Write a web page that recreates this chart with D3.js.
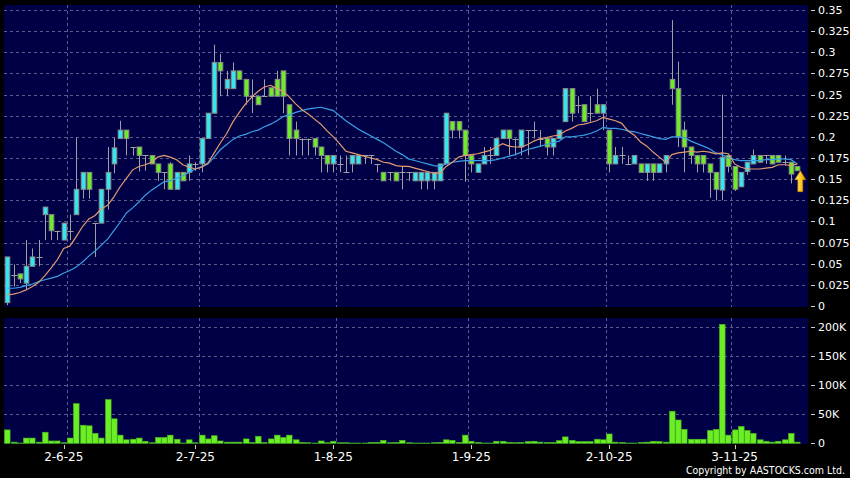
<!DOCTYPE html>
<html>
<head>
<meta charset="utf-8">
<script src="https://cdn.jsdelivr.net/npm/d3@7"></script>
<style>
    html, body { margin: 0; padding: 0; background: #000; }
    svg { display: block; }
    text { font-family: "DejaVu Sans", sans-serif; fill: #fff; }
    text.copy { font-family: "DejaVu Sans Condensed", "DejaVu Sans", sans-serif; font-stretch: condensed; }
</style>
</head>
<body>
<svg id="chart" width="850" height="478"></svg>
<script>
// Daily candles, oldest first
const opens = [
    0.004, 0.037, 0.038, 0.027, 0.047, 0.058, 0.108, 0.108, 0.089, 0.078,
    0.089, 0.108, 0.138, 0.158, 0.098, 0.098, 0.138, 0.168, 0.198, 0.208,
    0.188, 0.188, 0.178, 0.178, 0.168, 0.158, 0.168, 0.138, 0.158, 0.158,
    0.168, 0.168, 0.198, 0.228, 0.288, 0.257, 0.257, 0.278, 0.268, 0.248,
    0.248, 0.248, 0.258, 0.268, 0.278, 0.238, 0.208, 0.198, 0.198, 0.198,
    0.188, 0.178, 0.168, 0.168, 0.158, 0.168, 0.168, 0.178, 0.178, 0.168,
    0.158, 0.158, 0.158, 0.158, 0.158, 0.148, 0.148, 0.148, 0.148, 0.148,
    0.168, 0.218, 0.218, 0.208, 0.178, 0.158, 0.168, 0.178, 0.178, 0.198,
    0.208, 0.198, 0.188, 0.208, 0.208, 0.198, 0.198, 0.188, 0.198, 0.218,
    0.257, 0.238, 0.238, 0.228, 0.238, 0.228, 0.208, 0.168, 0.178, 0.168,
    0.168, 0.168, 0.158, 0.168, 0.158, 0.168, 0.268, 0.257, 0.208, 0.188,
    0.178, 0.178, 0.168, 0.158, 0.137, 0.178, 0.165, 0.141, 0.159, 0.168,
    0.178, 0.178, 0.178, 0.178, 0.170, 0.170, 0.165
];
const highs = [
    0.058, 0.049, 0.038, 0.078, 0.068, 0.078, 0.117, 0.108, 0.089, 0.098,
    0.108, 0.199, 0.158, 0.158, 0.098, 0.138, 0.188, 0.199, 0.219, 0.208,
    0.188, 0.188, 0.178, 0.178, 0.168, 0.158, 0.170, 0.158, 0.158, 0.178,
    0.170, 0.198, 0.228, 0.309, 0.298, 0.278, 0.288, 0.278, 0.268, 0.268,
    0.248, 0.268, 0.258, 0.278, 0.278, 0.238, 0.218, 0.198, 0.198, 0.198,
    0.188, 0.178, 0.178, 0.178, 0.178, 0.178, 0.178, 0.178, 0.178, 0.168,
    0.158, 0.158, 0.158, 0.165, 0.158, 0.158, 0.158, 0.158, 0.158, 0.168,
    0.228, 0.218, 0.218, 0.208, 0.178, 0.168, 0.188, 0.188, 0.198, 0.208,
    0.208, 0.198, 0.208, 0.208, 0.218, 0.208, 0.198, 0.198, 0.208, 0.257,
    0.257, 0.248, 0.238, 0.248, 0.257, 0.238, 0.208, 0.188, 0.188, 0.178,
    0.178, 0.168, 0.168, 0.168, 0.168, 0.178, 0.338, 0.289, 0.218, 0.188,
    0.178, 0.178, 0.168, 0.158, 0.250, 0.178, 0.165, 0.158, 0.170, 0.185,
    0.178, 0.178, 0.178, 0.178, 0.178, 0.170, 0.165
];
const lows = [
    0.001, 0.023, 0.027, 0.020, 0.047, 0.047, 0.078, 0.078, 0.078, 0.078,
    0.078, 0.108, 0.127, 0.127, 0.058, 0.098, 0.114, 0.157, 0.198, 0.178,
    0.178, 0.159, 0.160, 0.168, 0.148, 0.138, 0.138, 0.138, 0.148, 0.148,
    0.160, 0.158, 0.198, 0.228, 0.248, 0.248, 0.257, 0.268, 0.238, 0.228,
    0.238, 0.248, 0.248, 0.248, 0.228, 0.178, 0.178, 0.178, 0.178, 0.178,
    0.158, 0.158, 0.158, 0.158, 0.158, 0.158, 0.168, 0.168, 0.168, 0.158,
    0.148, 0.148, 0.148, 0.138, 0.148, 0.148, 0.138, 0.138, 0.138, 0.148,
    0.168, 0.198, 0.198, 0.147, 0.158, 0.158, 0.168, 0.168, 0.178, 0.198,
    0.178, 0.178, 0.178, 0.178, 0.198, 0.188, 0.178, 0.178, 0.198, 0.218,
    0.218, 0.228, 0.218, 0.218, 0.228, 0.208, 0.158, 0.168, 0.168, 0.168,
    0.168, 0.158, 0.148, 0.148, 0.158, 0.158, 0.238, 0.188, 0.158, 0.168,
    0.158, 0.158, 0.128, 0.125, 0.125, 0.158, 0.136, 0.141, 0.155, 0.168,
    0.170, 0.168, 0.168, 0.170, 0.166, 0.145, 0.160
];
const closes = [
    0.058, 0.037, 0.032, 0.047, 0.058, 0.058, 0.117, 0.089, 0.089, 0.098,
    0.089, 0.138, 0.158, 0.138, 0.098, 0.138, 0.158, 0.187, 0.208, 0.198,
    0.188, 0.178, 0.178, 0.168, 0.158, 0.158, 0.138, 0.158, 0.148, 0.168,
    0.168, 0.198, 0.228, 0.288, 0.278, 0.268, 0.278, 0.268, 0.248, 0.248,
    0.238, 0.248, 0.248, 0.248, 0.248, 0.198, 0.198, 0.198, 0.198, 0.188,
    0.178, 0.168, 0.178, 0.168, 0.158, 0.178, 0.178, 0.178, 0.178, 0.168,
    0.148, 0.158, 0.148, 0.158, 0.158, 0.158, 0.158, 0.158, 0.158, 0.168,
    0.228, 0.208, 0.208, 0.178, 0.168, 0.168, 0.178, 0.178, 0.198, 0.208,
    0.198, 0.198, 0.208, 0.208, 0.208, 0.198, 0.188, 0.198, 0.208, 0.257,
    0.228, 0.238, 0.218, 0.228, 0.228, 0.238, 0.168, 0.178, 0.178, 0.168,
    0.178, 0.158, 0.168, 0.158, 0.168, 0.178, 0.257, 0.200, 0.188, 0.178,
    0.168, 0.168, 0.158, 0.138, 0.176, 0.165, 0.138, 0.158, 0.170, 0.178,
    0.170, 0.178, 0.168, 0.170, 0.170, 0.156, 0.160
];
const volumes = [
    23000, 2000, 500, 9000, 9000, 2000, 19000, 4000, 4000, 1000,
    9000, 68000, 31000, 30000, 17000, 9000, 75000, 42000, 14000, 6000,
    7000, 9000, 3500, 1000, 10000, 10000, 14000, 7000, 500, 6000,
    1000, 14000, 7500, 13000, 4000, 2000, 2000, 2000, 7500, 1500,
    12000, 1500, 7500, 14000, 10000, 14000, 6000, 1500, 1000, 500,
    4000, 1000, 3500, 1000, 1000, 500, 500, 500, 1500, 1500,
    5000, 1000, 1500, 5000, 1000, 500, 500, 500, 1000, 1500,
    6000, 5000, 1500, 14000, 3500, 1500, 500, 500, 3500, 3500,
    1500, 1000, 1500, 3000, 3500, 2000, 1500, 1500, 4500, 11000,
    5000, 3000, 3000, 3000, 7000, 6000, 16000, 2000, 1500, 500,
    500, 1500, 2000, 3500, 3000, 2000, 55000, 40000, 24000, 7000,
    7000, 7000, 22000, 24000, 204000, 14000, 23000, 29000, 22000, 17000,
    6000, 3500, 2000, 3500, 6000, 17000, 2000
];
// moving average lines as drawn on the chart
const maShort = [
    0.013, 0.014, 0.016, 0.019, 0.023, 0.028, 0.036, 0.045, 0.055, 0.068,
    0.071, 0.082, 0.094, 0.103, 0.107, 0.115, 0.119, 0.129, 0.141, 0.151,
    0.161, 0.165, 0.167, 0.170, 0.176, 0.178, 0.176, 0.173, 0.167, 0.164,
    0.162, 0.164, 0.169, 0.181, 0.193, 0.204, 0.218, 0.229, 0.239, 0.247,
    0.254, 0.259, 0.261, 0.257, 0.254, 0.247, 0.239, 0.232, 0.227, 0.221,
    0.215, 0.207, 0.200, 0.192, 0.183, 0.181, 0.179, 0.177, 0.175, 0.173,
    0.170, 0.169, 0.166, 0.165, 0.165, 0.163, 0.161, 0.159, 0.157, 0.157,
    0.165, 0.170, 0.176, 0.178, 0.179, 0.180, 0.182, 0.184, 0.188, 0.192,
    0.189, 0.188, 0.188, 0.191, 0.195, 0.198, 0.199, 0.201, 0.202, 0.207,
    0.210, 0.214, 0.215, 0.217, 0.219, 0.223, 0.221, 0.219, 0.216, 0.207,
    0.202, 0.194, 0.189, 0.182, 0.176, 0.170, 0.179, 0.181, 0.182, 0.183,
    0.182, 0.183, 0.182, 0.180, 0.181, 0.180, 0.168, 0.164, 0.162, 0.162,
    0.162, 0.163, 0.164, 0.167, 0.167, 0.166, 0.168
];
const maLong = [
    0.021, 0.021, 0.022, 0.024, 0.026, 0.029, 0.031, 0.033, 0.035, 0.039,
    0.042, 0.046, 0.052, 0.059, 0.065, 0.072, 0.079, 0.089, 0.099, 0.110,
    0.116, 0.123, 0.131, 0.137, 0.142, 0.147, 0.148, 0.151, 0.154, 0.158,
    0.162, 0.165, 0.168, 0.176, 0.185, 0.191, 0.197, 0.201, 0.203, 0.206,
    0.208, 0.212, 0.215, 0.219, 0.224, 0.226, 0.229, 0.231, 0.233, 0.234,
    0.235, 0.233, 0.231, 0.225, 0.219, 0.214, 0.209, 0.205, 0.201, 0.197,
    0.193, 0.188, 0.183, 0.179, 0.174, 0.172, 0.170, 0.168, 0.166, 0.165,
    0.168, 0.170, 0.171, 0.172, 0.172, 0.172, 0.172, 0.172, 0.173, 0.175,
    0.177, 0.179, 0.182, 0.185, 0.187, 0.189, 0.191, 0.193, 0.195, 0.200,
    0.200, 0.201, 0.202, 0.204, 0.207, 0.211, 0.210, 0.210, 0.209, 0.207,
    0.206, 0.204, 0.202, 0.200, 0.198, 0.197, 0.200, 0.200, 0.199, 0.195,
    0.192, 0.189, 0.186, 0.181, 0.179, 0.175, 0.173, 0.172, 0.172, 0.172,
    0.172, 0.173, 0.173, 0.174, 0.174, 0.173, 0.168
];

// axis ticks
const dateLabels = ['2-6-25', '2-7-25', '1-8-25', '1-9-25', '2-10-25', '3-11-25'];
const dateIndex = [9, 30, 52, 74, 96, 116];
const monthGridIndex = [9.5, 30.5, 52.5, 73.5, 95.5, 115.5];
const priceTicks = [0, 0.025, 0.05, 0.075, 0.1, 0.125, 0.15, 0.175, 0.2, 0.225, 0.25, 0.275, 0.3, 0.325, 0.35];
const volumeTicks = [0, 50000, 100000, 150000, 200000];
const volumeTickLabels = ['0', '50K', '100K', '150K', '200K'];

const colors = {
    panel: '#000046',
    grid: '#5c5c8c',
    up: '#33e6f0',
    down: '#6cee24',
    border: '#8a8a8a',
    wick: '#a0a0a0',
    maShort: '#e39a70',
    maLong: '#3a9fe4',
    volume: '#6cee24'
};

class CandleChart {
    constructor() {
        this.svg = d3.select('#chart');
        this.left = 4;
        this.right = 808;
        this.pricePanel = { top: 5, bottom: 307 };
        this.volPanel = { top: 318, bottom: 444 };

        this.x = d3.scaleLinear().domain([0, closes.length - 1]).range([7.3, 797.3]);
        this.yPrice = d3.scaleLinear().domain([0, 0.35]).range([306, 10]);
        this.yVol = d3.scaleLinear().domain([0, 200000]).range([443.3, 326.7]);

        this.drawPanels();
        this.drawCandles();
        this.drawAverages();
        this.drawVolume();
        this.drawAxes();
        this.drawMarker();
    }

    drawPanels() {
        const panels = [this.pricePanel, this.volPanel];
        this.svg.selectAll('rect.panel')
            .data(panels)
            .enter().append('rect')
            .attr('class', 'panel')
            .attr('x', this.left)
            .attr('y', d => d.top)
            .attr('width', this.right - this.left)
            .attr('height', d => d.bottom - d.top)
            .attr('fill', colors.panel);

        const defs = this.svg.append('defs');
        defs.append('clipPath').attr('id', 'clip-price')
            .append('rect')
            .attr('x', this.left).attr('y', this.pricePanel.top)
            .attr('width', this.right - this.left)
            .attr('height', this.pricePanel.bottom - this.pricePanel.top);

        // horizontal grid lines
        const grid = this.svg.append('g')
            .attr('stroke', colors.grid)
            .attr('stroke-dasharray', '3,3');

        grid.selectAll('line.hp')
            .data(priceTicks.filter(d => d > 0))
            .enter().append('line')
            .attr('x1', this.left).attr('x2', this.right)
            .attr('y1', d => Math.round(this.yPrice(d)) + 0.5)
            .attr('y2', d => Math.round(this.yPrice(d)) + 0.5);

        grid.selectAll('line.hv')
            .data(volumeTicks.filter(d => d > 0))
            .enter().append('line')
            .attr('x1', this.left).attr('x2', this.right)
            .attr('y1', d => Math.round(this.yVol(d)) + 0.5)
            .attr('y2', d => Math.round(this.yVol(d)) + 0.5);

        // month separators in both panels
        panels.forEach(p => {
            grid.selectAll(null)
                .data(monthGridIndex)
                .enter().append('line')
                .attr('x1', d => Math.round(this.x(d)) + 0.5)
                .attr('x2', d => Math.round(this.x(d)) + 0.5)
                .attr('y1', p.top)
                .attr('y2', p.bottom);
        });
    }

    drawCandles() {
        const g = this.svg.append('g').attr('clip-path', 'url(#clip-price)');
        const idx = d3.range(closes.length);
        const cx = i => Math.round(this.x(i)) + 0.5;
        const bodyW = 4.6;

        // wicks
        g.selectAll('line.wick')
            .data(idx)
            .enter().append('line')
            .attr('class', 'wick')
            .attr('x1', cx).attr('x2', cx)
            .attr('y1', i => this.yPrice(highs[i]))
            .attr('y2', i => this.yPrice(lows[i]))
            .attr('stroke', colors.wick)
            .attr('stroke-width', 1);

        // flat days drawn as a dash
        const flat = idx.filter(i => opens[i] === closes[i]);
        g.selectAll('line.doji')
            .data(flat)
            .enter().append('line')
            .attr('x1', i => cx(i) - 3)
            .attr('x2', i => cx(i) + 3)
            .attr('y1', i => Math.round(this.yPrice(closes[i])) + 0.5)
            .attr('y2', i => Math.round(this.yPrice(closes[i])) + 0.5)
            .attr('stroke', colors.wick)
            .attr('stroke-width', 1);

        const bodies = idx.filter(i => opens[i] !== closes[i]);
        g.selectAll('rect.body')
            .data(bodies)
            .enter().append('rect')
            .attr('class', 'body')
            .attr('x', i => cx(i) - bodyW / 2)
            .attr('width', bodyW)
            .attr('y', i => this.yPrice(Math.max(opens[i], closes[i])))
            .attr('height', i => Math.max(1, Math.abs(this.yPrice(opens[i]) - this.yPrice(closes[i]))))
            .attr('fill', i => closes[i] > opens[i] ? colors.up : colors.down)
            .attr('stroke', colors.border)
            .attr('stroke-width', 1);
    }

    drawAverages() {
        const g = this.svg.append('g').attr('clip-path', 'url(#clip-price)');
        const line = d3.line()
            .x((d, i) => this.x(i))
            .y(d => this.yPrice(d));

        g.append('path')
            .attr('d', line(maLong))
            .attr('fill', 'none')
            .attr('stroke', colors.maLong)
            .attr('stroke-width', 1.2);

        g.append('path')
            .attr('d', line(maShort))
            .attr('fill', 'none')
            .attr('stroke', colors.maShort)
            .attr('stroke-width', 1.2);
    }

    drawVolume() {
        const base = this.yVol(0);
        this.svg.append('g')
            .selectAll('rect')
            .data(volumes)
            .enter().append('rect')
            .attr('x', (d, i) => Math.round(this.x(i)) - 2.5)
            .attr('width', 5.6)
            .attr('y', d => this.yVol(d))
            .attr('height', d => base - this.yVol(d))
            .attr('fill', colors.volume)
            .attr('stroke', '#48b81a')
            .attr('stroke-width', 0.6);
    }

    drawAxes() {
        const axisX = this.right + 3;
        const g = this.svg.append('g');

        // price labels
        g.selectAll('line.pt')
            .data(priceTicks)
            .enter().append('line')
            .attr('x1', axisX).attr('x2', axisX + 4)
            .attr('y1', d => Math.round(this.yPrice(d)) + 0.5)
            .attr('y2', d => Math.round(this.yPrice(d)) + 0.5)
            .attr('stroke', '#ccc');

        g.selectAll('text.pl')
            .data(priceTicks)
            .enter().append('text')
            .attr('x', axisX + 7)
            .attr('y', d => this.yPrice(d))
            .attr('dy', '0.36em')
            .attr('font-size', 11)
            .text(d => d3.format('~g')(d));

        // volume labels
        g.selectAll('line.vt')
            .data(volumeTicks)
            .enter().append('line')
            .attr('x1', axisX).attr('x2', axisX + 4)
            .attr('y1', d => Math.round(this.yVol(d)) + 0.5)
            .attr('y2', d => Math.round(this.yVol(d)) + 0.5)
            .attr('stroke', '#ccc');

        g.selectAll('text.vl')
            .data(volumeTicks)
            .enter().append('text')
            .attr('x', axisX + 7)
            .attr('y', d => this.yVol(d))
            .attr('dy', '0.36em')
            .attr('font-size', 11)
            .text((d, i) => volumeTickLabels[i]);

        // date labels along the bottom
        g.selectAll('line.dt')
            .data(dateIndex)
            .enter().append('line')
            .attr('x1', d => Math.round(this.x(d)) + 0.5)
            .attr('x2', d => Math.round(this.x(d)) + 0.5)
            .attr('y1', this.volPanel.bottom + 1)
            .attr('y2', this.volPanel.bottom + 5)
            .attr('stroke', '#ccc');

        g.selectAll('text.dl')
            .data(dateIndex)
            .enter().append('text')
            .attr('x', d => this.x(d))
            .attr('y', 461)
            .attr('text-anchor', 'middle')
            .attr('font-size', 12)
            .text((d, i) => dateLabels[i]);

        g.append('text')
            .attr('class', 'copy')
            .attr('x', 845)
            .attr('y', 474)
            .attr('text-anchor', 'end')
            .attr('font-size', 10.5)
            .text('Copyright by AASTOCKS.com Ltd.');
    }

    drawMarker() {
        // yellow arrow under the latest close
        const last = closes.length - 1;
        const grad = this.svg.select('defs').append('linearGradient')
            .attr('id', 'arrow-grad')
            .attr('x1', 0).attr('x2', 1).attr('y1', 0).attr('y2', 0);
        grad.append('stop').attr('offset', '0%').attr('stop-color', '#fff27a');
        grad.append('stop').attr('offset', '60%').attr('stop-color', '#ffc21a');
        grad.append('stop').attr('offset', '100%').attr('stop-color', '#d88a00');

        this.svg.append('path')
            .attr('transform', `translate(${this.x(last) + 3},${this.yPrice(closes[last])})`)
            .attr('d', 'M0,0 L5.5,9 L2.5,9 L2.5,21 L-2.5,21 L-2.5,9 L-5.5,9 Z')
            .attr('fill', 'url(#arrow-grad)')
            .attr('stroke', '#b87800')
            .attr('stroke-width', 0.6);
    }
}

window.chart = new CandleChart();
</script>
</body>
</html>
